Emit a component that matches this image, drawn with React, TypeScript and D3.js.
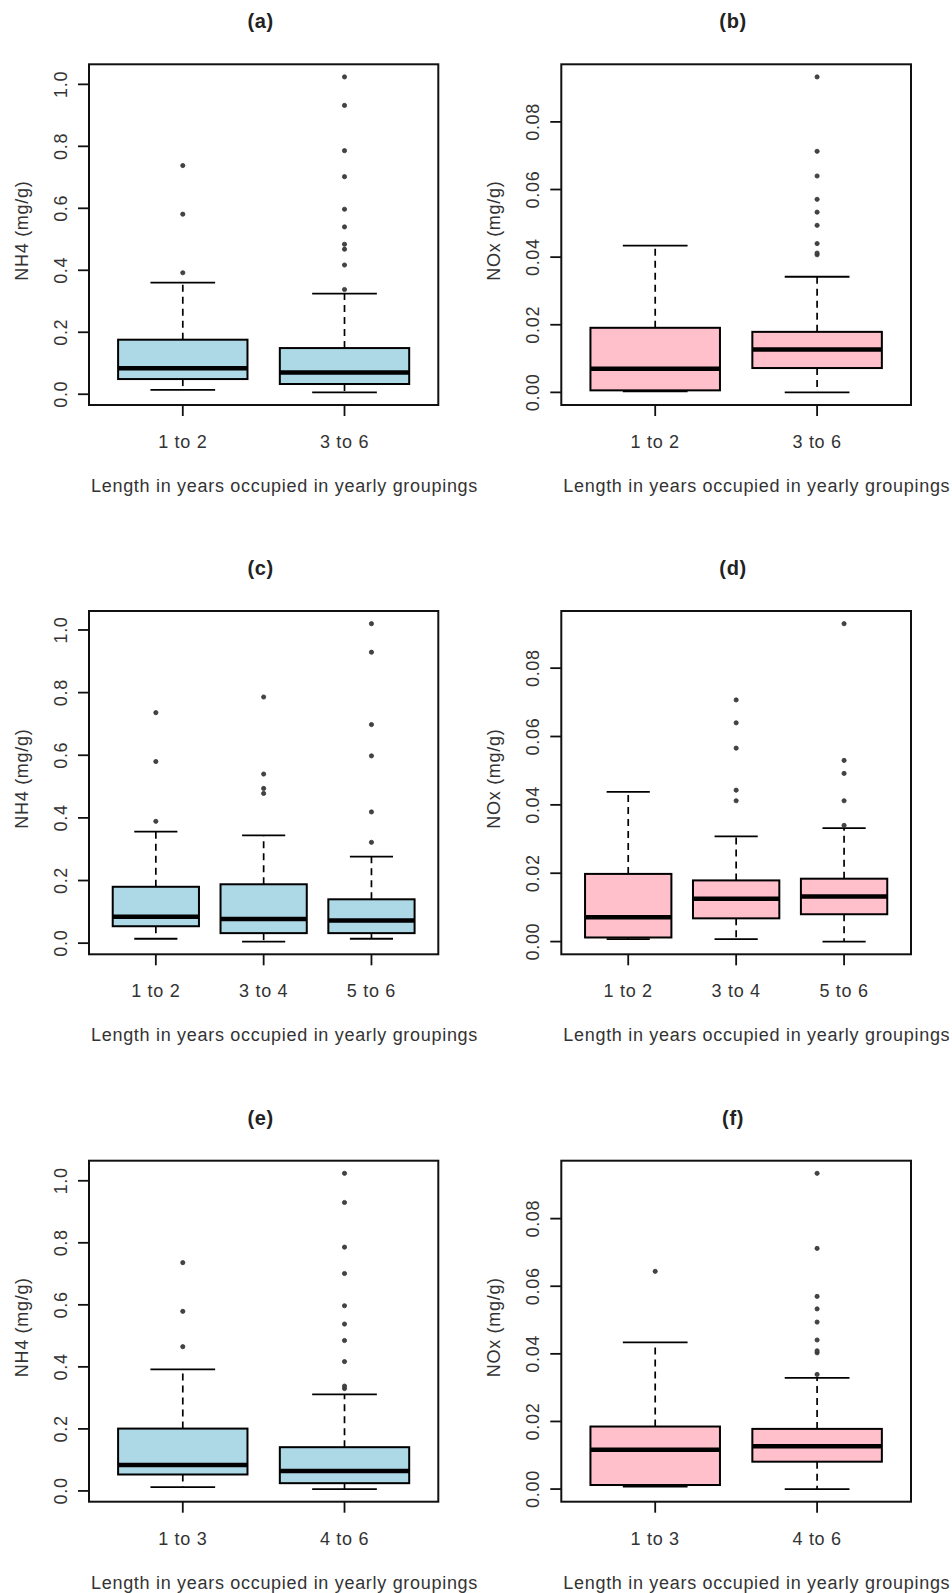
import React from "react";
import * as d3 from "d3";

// stats per group: [lower whisker, Q1, median, Q3, upper whisker]
const groupsA = ["1 to 2", "3 to 6"];
const statsA = [[0.014, 0.049, 0.084, 0.176, 0.360], [0.006, 0.033, 0.070, 0.149, 0.325]];
const outliersA = [[0.392, 0.581, 0.738], [0.338, 0.417, 0.468, 0.484, 0.540, 0.597, 0.702, 0.786, 0.932, 1.024]];

const groupsB = ["1 to 2", "3 to 6"];
const statsB = [[0.0003, 0.0006, 0.0070, 0.0191, 0.0434], [0.0000, 0.0072, 0.0127, 0.0179, 0.0342]];
const outliersB = [[], [0.0407, 0.0412, 0.0440, 0.0494, 0.0533, 0.0571, 0.0640, 0.0713, 0.0933]];

const groupsC = ["1 to 2", "3 to 4", "5 to 6"];
const statsC = [[0.014, 0.054, 0.084, 0.180, 0.356], [0.005, 0.032, 0.077, 0.188, 0.344], [0.014, 0.032, 0.072, 0.140, 0.276]];
const outliersC = [[0.389, 0.580, 0.736], [0.478, 0.494, 0.540, 0.786], [0.322, 0.419, 0.598, 0.698, 0.929, 1.020]];

const groupsD = ["1 to 2", "3 to 4", "5 to 6"];
const statsD = [[0.0007, 0.0012, 0.0071, 0.0198, 0.0438], [0.0007, 0.0068, 0.0125, 0.0179, 0.0308], [0.0000, 0.0080, 0.0132, 0.0184, 0.0332]];
const outliersD = [[], [0.0412, 0.0443, 0.0566, 0.0640, 0.0707], [0.0340, 0.0412, 0.0492, 0.0530, 0.0930]];

const groupsE = ["1 to 3", "4 to 6"];
const statsE = [[0.012, 0.053, 0.084, 0.201, 0.392], [0.006, 0.025, 0.064, 0.141, 0.311]];
const outliersE = [[0.465, 0.579, 0.736], [0.330, 0.338, 0.417, 0.485, 0.538, 0.597, 0.701, 0.786, 0.930, 1.024]];

const groupsF = ["1 to 3", "4 to 6"];
const statsF = [[0.0007, 0.0012, 0.0116, 0.0185, 0.0434], [0.0000, 0.0081, 0.0127, 0.0178, 0.0329]];
const outliersF = [[0.0644], [0.0339, 0.0403, 0.0409, 0.0441, 0.0494, 0.0533, 0.0570, 0.0712, 0.0934]];

const nh4Ticks = [0, 0.2, 0.4, 0.6, 0.8, 1.0];
const noxTicks = [0, 0.02, 0.04, 0.06, 0.08];
const xLabel = "Length in years occupied in yearly groupings";

const font = "'Liberation Sans', Arial, sans-serif";
const textColor = "#333";

const cols = [{ left: 89, right: 438.3 }, { left: 561.3, right: 911 }];
const rows = [{ top: 64.3, bottom: 405 }, { top: 611, bottom: 954.3 }, { top: 1160.7, bottom: 1501.7 }];

const panels = [
  { title: "(a)", groups: groupsA, stats: statsA, outliers: outliersA, ticks: nh4Ticks, fmt: ".1f", ylab: "NH4 (mg/g)", fill: "lightblue", col: 0, row: 0 },
  { title: "(b)", groups: groupsB, stats: statsB, outliers: outliersB, ticks: noxTicks, fmt: ".2f", ylab: "NOx (mg/g)", fill: "pink", col: 1, row: 0 },
  { title: "(c)", groups: groupsC, stats: statsC, outliers: outliersC, ticks: nh4Ticks, fmt: ".1f", ylab: "NH4 (mg/g)", fill: "lightblue", col: 0, row: 1 },
  { title: "(d)", groups: groupsD, stats: statsD, outliers: outliersD, ticks: noxTicks, fmt: ".2f", ylab: "NOx (mg/g)", fill: "pink", col: 1, row: 1 },
  { title: "(e)", groups: groupsE, stats: statsE, outliers: outliersE, ticks: nh4Ticks, fmt: ".1f", ylab: "NH4 (mg/g)", fill: "lightblue", col: 0, row: 2 },
  { title: "(f)", groups: groupsF, stats: statsF, outliers: outliersF, ticks: noxTicks, fmt: ".2f", ylab: "NOx (mg/g)", fill: "pink", col: 1, row: 2 },
];

type Panel = typeof panels[number];

const BoxPanel = ({ p }: { p: Panel }) => {
  const { left, right } = cols[p.col];
  const { top, bottom } = rows[p.row];
  const n = p.groups.length;

  // R style: xlim = [0.5, n + 0.5] plus 4% extension
  const x = d3.scaleLinear().domain([0.5 - 0.04 * n, n + 0.5 + 0.04 * n]).range([left, right]);
  const all = p.stats.flat().concat(p.outliers.flat());
  const [lo, hi] = d3.extent(all) as [number, number];
  const pad = (hi - lo) * 0.04;
  const y = d3.scaleLinear().domain([lo - pad, hi + pad]).range([bottom, top]);
  const fmt = d3.format(p.fmt);

  const half = x(1.4) - x(1);
  const cap = half / 2;
  const midX = (left + right) / 2;
  const midY = (top + bottom) / 2;

  return (
    <g>
      <text x={midX - 3} y={top - 36} textAnchor="middle" fontFamily={font} fontWeight="bold" fontSize={20} letterSpacing={0.7} fill="#222">
        {p.title}
      </text>

      {p.stats.map((s, i) => {
        const cx = x(i + 1);
        return (
          <g key={i}>
            <line x1={cx} x2={cx} y1={y(s[3])} y2={y(s[4])} stroke="#000" strokeWidth={1.7} strokeDasharray="7,5" />
            <line x1={cx} x2={cx} y1={y(s[1])} y2={y(s[0])} stroke="#000" strokeWidth={1.7} strokeDasharray="7,5" />
            <line x1={cx - cap} x2={cx + cap} y1={y(s[4])} y2={y(s[4])} stroke="#000" strokeWidth={1.8} />
            <line x1={cx - cap} x2={cx + cap} y1={y(s[0])} y2={y(s[0])} stroke="#000" strokeWidth={1.8} />
            <rect x={cx - half} y={y(s[3])} width={2 * half} height={y(s[1]) - y(s[3])} fill={p.fill} stroke="#000" strokeWidth={2} />
            <line x1={cx - half} x2={cx + half} y1={y(s[2])} y2={y(s[2])} stroke="#000" strokeWidth={4.5} />
            {p.outliers[i].map((v, j) => (
              <circle key={j} cx={cx} cy={y(v)} r={2.1} fill="#444" stroke="#333" strokeWidth={0.8} />
            ))}
          </g>
        );
      })}

      <rect x={left} y={top} width={right - left} height={bottom - top} fill="none" stroke="#111" strokeWidth={2} />

      {p.ticks.map(t => (
        <g key={t}>
          <line x1={left - 11} x2={left} y1={y(t)} y2={y(t)} stroke="#111" strokeWidth={1.8} />
          <text transform={`translate(${left - 22},${y(t)}) rotate(-90)`} textAnchor="middle" fontFamily={font} fontSize={18} letterSpacing={0.7} fill={textColor}>
            {fmt(t)}
          </text>
        </g>
      ))}

      {p.groups.map((g, i) => (
        <g key={g}>
          <line x1={x(i + 1)} x2={x(i + 1)} y1={bottom} y2={bottom + 11} stroke="#111" strokeWidth={1.8} />
          <text x={x(i + 1)} y={bottom + 43} textAnchor="middle" fontFamily={font} fontSize={18} letterSpacing={0.7} fill={textColor}>
            {g}
          </text>
        </g>
      ))}

      <text x={left + 2} y={bottom + 87} textAnchor="start" fontFamily={font} fontSize={18} letterSpacing={0.7} fill={textColor}>
        {xLabel}
      </text>
      <text transform={`translate(${left - 61},${midY - 4}) rotate(-90)`} textAnchor="middle" fontFamily={font} fontSize={18} letterSpacing={0.7} fill={textColor}>
        {p.ylab}
      </text>
    </g>
  );
};

const App = () => {
  return (
    <svg width={952} height={1593} style={{ position: "absolute", left: 0, top: 0, background: "#fff" }}>
      <rect width={952} height={1593} fill="#fff" />
      {panels.map(p => (
        <BoxPanel key={p.title} p={p} />
      ))}
    </svg>
  );
};

export default App;
